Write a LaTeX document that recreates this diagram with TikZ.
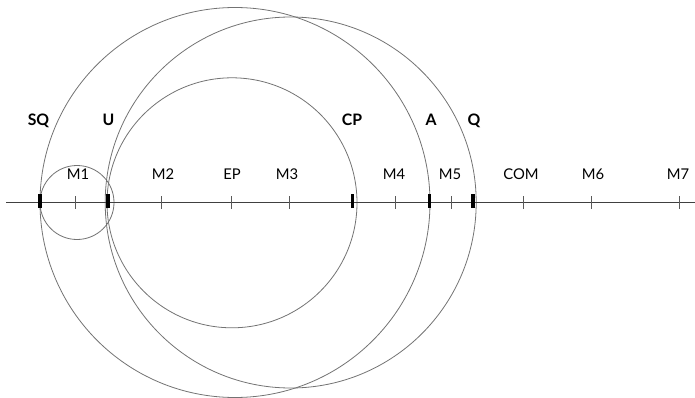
\documentclass[tikz,border=0pt]{standalone}
\usepackage{fontspec}
\setmainfont{Lato}
\begin{document}
\begin{tikzpicture}[x=1pt,y=-1pt,
  axis/.style={draw=black!75,line width=0.9pt},
  orbit/.style={draw=black!55,line width=0.8pt},
  minortick/.style={draw=black!65,line width=0.8pt},
  majortick/.style={draw=black,line width=3.6pt},
  lbl/.style={anchor=base,inner sep=0pt,font=\fontsize{14.8}{17}\selectfont},
  boldlbl/.style={anchor=base,inner sep=0pt,font=\fontsize{15.8}{18}\selectfont\bfseries}]
\useasboundingbox (0,0) rectangle (695,398);

% circles
\draw[orbit] (77,202.5) circle (37);
\draw[orbit] (235,202.5) circle (195);
\draw[orbit] (290.7,202.5) circle (185.5);
\draw[orbit] (232,202.8) circle (125);

% axis
\coordinate (L) at (6,202.7);
\coordinate (R) at (695,202.7);
\draw[axis] (L) -- (R);

% minor ticks with their labels
\foreach \nm/\tx/\lx in {M1/75.7/78, M2/161/163, EP/231.7/232, M3/289.3/287,
                         M4/395.7/394, M5/451/450, COM/523/521, M6/591.7/593, M7/679.3/678}{
  \coordinate (t\nm) at (\tx,202.7);
  \draw[minortick] ([yshift=6.5pt]t\nm) -- ([yshift=-6.5pt]t\nm);
  \node[lbl] (l\nm) at (\lx,179) {\nm};
}

% major ticks with their labels
\foreach \nm/\tx/\lx in {SQ/40/38.5, U/107.7/108.5, CP/352.5/352, A/429.3/431, Q/472.7/474}{
  \coordinate (t\nm) at (\tx,201.3);
  \draw[majortick] ([yshift=7pt]t\nm) -- ([yshift=-7pt]t\nm);
  \node[boldlbl] (l\nm) at (\lx,126) {\nm};
}
\end{tikzpicture}
\end{document}
